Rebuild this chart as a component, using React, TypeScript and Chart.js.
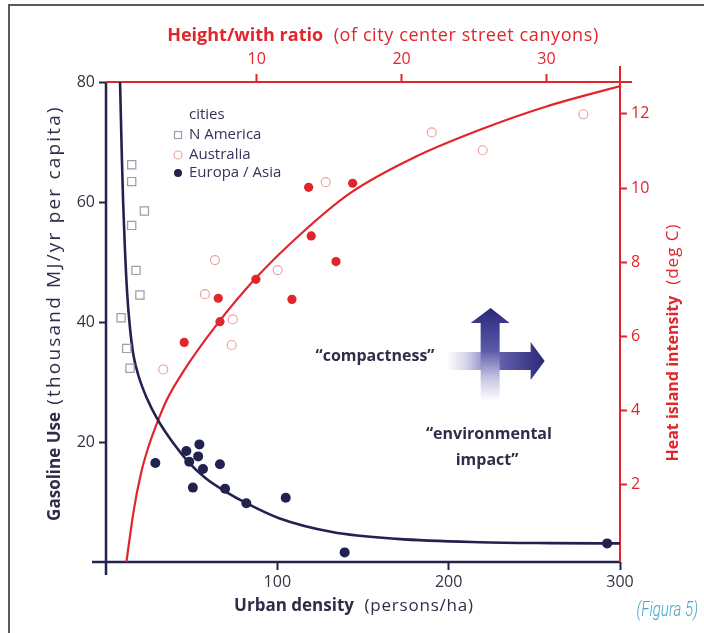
import React, { useEffect, useRef } from "react";
import { Chart, registerables } from "chart.js";

Chart.register(...registerables);

// ---------- data ----------
// Gasoline use fitted curve: urban density (persons/ha) -> thousand MJ/yr per capita
const gasCurveDensity = [8.2, 8.7, 9.3, 10.0, 11.0, 12.3, 14.0, 16.0, 19.0, 24.0, 30.0, 39.0, 48.0, 58.0, 70.0, 82.0, 101.0, 132.0, 170.0, 218.0, 260.0, 300.0];
const gasCurveUse = [80, 74, 67, 60, 52.5, 45, 39, 34.5, 31, 27.2, 23.8, 19.9, 16.7, 14.0, 11.7, 9.8, 7.3, 5.0, 3.85, 3.3, 3.15, 3.1];

// N America cities (density, gasoline)
const naDensity = [15.0, 15.0, 22.4, 15.0, 17.5, 19.8, 8.8, 12.1, 14.0];
const naGasoline = [66.2, 63.4, 58.5, 56.1, 48.6, 44.5, 40.7, 35.6, 32.3];

// Europa / Asia cities (density, gasoline)
const euDensity = [28.8, 46.9, 48.6, 54.5, 53.8, 56.6, 50.7, 66.5, 69.5, 81.9, 104.9, 139.3, 292.5];
const euGasoline = [16.5, 18.5, 16.7, 19.6, 17.6, 15.5, 12.4, 16.3, 12.2, 9.8, 10.7, 1.6, 3.1];

// Heat island fitted curve: height/width ratio -> heat island intensity (deg C)
const heatCurveRatio = [1.0, 1.5, 2.0, 2.5, 3.0, 3.8, 5.0, 7.2, 10.0, 13.0, 16.4, 21.0, 25.6, 30.0, 35.1];
const heatCurveIntensity = [-0.08, 1.3, 2.3, 3.0, 3.55, 4.3, 5.1, 6.3, 7.6, 8.75, 9.85, 10.85, 11.6, 12.2, 12.75];

// Australia cities (ratio, heat)
const auRatio = [3.54, 6.42, 7.11, 8.34, 8.27, 11.44, 14.76, 22.08, 25.6, 32.55];
const auHeat = [5.11, 7.14, 8.06, 6.46, 5.77, 7.79, 10.16, 11.5, 11.02, 11.99];

// Heat island measurements (red dots) (ratio, heat)
const redRatio = [4.99, 7.34, 7.46, 9.94, 12.43, 13.58, 13.76, 15.47, 16.62];
const redHeat = [5.84, 7.03, 6.4, 7.54, 7.0, 10.02, 8.71, 8.02, 10.13];

// tick labels
const densityTicks = [100, 200, 300];
const gasolineTicks = [20, 40, 60, 80];
const ratioTicks = [10, 20, 30];
const heatTicks = [2, 4, 6, 8, 10, 12];

// ---------- styles ----------
const NAVY = "#22224e";
const RED = "#e0252b";
const TEXT = "#2e2e4a";
const FONT = "'Open Sans', 'Noto Sans', sans-serif";

type Part = { t: string; w: number; s: number; ls?: number };

function mixedText(
  ctx: CanvasRenderingContext2D,
  parts: Part[],
  cx: number,
  cy: number,
  color: string,
  angle = 0
) {
  ctx.save();
  ctx.translate(cx, cy);
  ctx.rotate(angle);
  const c: any = ctx;
  const widths = parts.map((p) => {
    ctx.font = `${p.w} ${p.s}px ${FONT}`;
    c.letterSpacing = `${p.ls || 0}px`;
    return ctx.measureText(p.t).width;
  });
  const total = widths.reduce((a, b) => a + b, 0);
  let x = -total / 2;
  ctx.textBaseline = "middle";
  ctx.textAlign = "left";
  ctx.fillStyle = color;
  parts.forEach((p, i) => {
    ctx.font = `${p.w} ${p.s}px ${FONT}`;
    c.letterSpacing = `${p.ls || 0}px`;
    ctx.fillText(p.t, x, 0);
    x += widths[i];
  });
  c.letterSpacing = "0px";
  ctx.restore();
}

const extrasPlugin = {
  id: "extras",
  beforeDraw(chart: any) {
    const ctx = chart.ctx as CanvasRenderingContext2D;
    ctx.save();
    ctx.fillStyle = "#ffffff";
    ctx.fillRect(0, 0, chart.width, chart.height);
    // outer frame (top & left)
    ctx.strokeStyle = "#5a5a5a";
    ctx.lineWidth = 2;
    ctx.beginPath();
    ctx.moveTo(9, chart.height);
    ctx.lineTo(9, 5);
    ctx.lineTo(chart.width, 5);
    ctx.stroke();
    ctx.restore();
  },
  beforeDatasetsDraw(chart: any) {
    const ctx = chart.ctx as CanvasRenderingContext2D;
    const a = chart.chartArea;
    ctx.save();
    ctx.lineCap = "butt";
    // navy left axis
    ctx.strokeStyle = NAVY;
    ctx.lineWidth = 2.5;
    ctx.beginPath();
    ctx.moveTo(a.left, a.top);
    ctx.lineTo(a.left, a.bottom + 13);
    ctx.stroke();
    // navy bottom axis
    ctx.beginPath();
    ctx.moveTo(a.left - 14, a.bottom);
    ctx.lineTo(a.right, a.bottom);
    ctx.stroke();
    // red top axis
    ctx.strokeStyle = RED;
    ctx.lineWidth = 2;
    ctx.beginPath();
    ctx.moveTo(a.left, a.top);
    ctx.lineTo(a.right + 12, a.top);
    ctx.stroke();
    // red right axis
    ctx.beginPath();
    ctx.moveTo(a.right, a.top - 16);
    ctx.lineTo(a.right, a.bottom);
    ctx.stroke();
    ctx.restore();
  },
  afterDraw(chart: any) {
    const ctx = chart.ctx as CanvasRenderingContext2D;
    const xs = chart.scales.x;
    const ys = chart.scales.y;
    ctx.save();

    // ---- arrow cross (compactness / environmental impact) ----
    const cx = xs.getPixelForValue(224.5);
    const cy = ys.getPixelForValue(33.5);
    // horizontal arrow
    const hl = cx - 44, hr = cx + 40, tip = cx + 54;
    const hg = ctx.createLinearGradient(hl, 0, tip, 0);
    hg.addColorStop(0, "rgba(255,255,255,1)");
    hg.addColorStop(0.2, "#d4d4ea");
    hg.addColorStop(0.5, "#6a68b2");
    hg.addColorStop(1, "#2a2878");
    ctx.fillStyle = hg;
    ctx.beginPath();
    ctx.moveTo(hl, cy - 9);
    ctx.lineTo(hr, cy - 9);
    ctx.lineTo(hr, cy - 19);
    ctx.lineTo(tip, cy);
    ctx.lineTo(hr, cy + 19);
    ctx.lineTo(hr, cy + 9);
    ctx.lineTo(hl, cy + 9);
    ctx.closePath();
    ctx.fill();
    // vertical arrow
    const vb = cy + 40, vt = cy - 38, vtip = cy - 53;
    const vg = ctx.createLinearGradient(0, vb, 0, vtip);
    vg.addColorStop(0, "rgba(255,255,255,1)");
    vg.addColorStop(0.25, "#c4c4e2");
    vg.addColorStop(0.55, "#5a58a8");
    vg.addColorStop(1, "#2a2878");
    ctx.fillStyle = vg;
    ctx.beginPath();
    ctx.moveTo(cx - 10, vb);
    ctx.lineTo(cx - 10, vt);
    ctx.lineTo(cx - 20, vt);
    ctx.lineTo(cx, vtip);
    ctx.lineTo(cx + 19, vt);
    ctx.lineTo(cx + 9, vt);
    ctx.lineTo(cx + 9, vb);
    ctx.closePath();
    ctx.fill();

    // ---- annotation texts ----
    ctx.fillStyle = TEXT;
    ctx.textAlign = "center";
    ctx.textBaseline = "middle";
    ctx.font = `700 16px ${FONT}`;
    ctx.fillText("\u201Ccompactness\u201D", xs.getPixelForValue(157), ys.getPixelForValue(34.2));
    ctx.fillText("\u201Cenvironmental", xs.getPixelForValue(223.5), ys.getPixelForValue(21.2));
    ctx.fillText("impact\u201D", xs.getPixelForValue(222.4), ys.getPixelForValue(17));

    // ---- legend ----
    const lx = 178, tx = 189;
    ctx.textAlign = "left";
    ctx.font = `400 15px ${FONT}`;
    ctx.fillStyle = "#34345a";
    ctx.fillText("cities", tx, 115);
    const ds = chart.data.datasets;
    const items = [ds[0], ds[1], ds[2]];
    const rows = [135, 155, 173];
    items.forEach((d: any, i: number) => {
      const y = rows[i];
      ctx.fillStyle = "#34345a";
      ctx.fillText(d.label, tx, y);
      ctx.lineWidth = 1.2;
      if (d.pointStyle === "rect") {
        ctx.strokeStyle = d.borderColor;
        ctx.strokeRect(lx - 3.5, y - 3.5, 7, 7);
      } else if (d.backgroundColor === NAVY) {
        ctx.fillStyle = NAVY;
        ctx.beginPath();
        ctx.arc(lx, y, 4, 0, Math.PI * 2);
        ctx.fill();
      } else {
        ctx.strokeStyle = d.borderColor;
        ctx.beginPath();
        ctx.arc(lx, y, 4, 0, Math.PI * 2);
        ctx.stroke();
      }
    });

    // ---- axis titles ----
    mixedText(ctx, [{ t: "Height/with ratio", w: 700, s: 18 }, { t: "  (of city center street canyons)", w: 400, s: 18, ls: 0.6 }], 383, 36, RED);
    mixedText(ctx, [{ t: "Urban density", w: 700, s: 17 }, { t: "  (persons/ha)", w: 400, s: 17, ls: 0.8 }], 354, 606, TEXT);
    mixedText(ctx, [{ t: "Gasoline Use", w: 700, s: 17 }, { t: " (thousand MJ/yr per capita)", w: 400, s: 19, ls: 2.2 }], 55, 313, TEXT, -Math.PI / 2);
    mixedText(ctx, [{ t: "Heat island intensity", w: 700, s: 16 }, { t: "  (deg C)", w: 400, s: 17, ls: 1 }], 673, 342.5, RED, -Math.PI / 2);

    // ---- figure caption ----
    ctx.save();
    ctx.translate(698, 611);
    ctx.scale(0.72, 1);
    ctx.font = `italic 300 21px Roboto, ${FONT}`;
    ctx.fillStyle = "#3fa8c8";
    ctx.textAlign = "right";
    ctx.textBaseline = "middle";
    ctx.fillText("(Figura 5)", 0, 0);
    ctx.restore();

    ctx.restore();
  },
};

function setTicks(values: number[]) {
  return (scale: any) => {
    scale.ticks = values.map((v) => ({ value: v }));
  };
}

export default function App() {
  const ref = useRef<HTMLCanvasElement | null>(null);

  useEffect(() => {
    if (!ref.current) return;
    const gridBase = { drawOnChartArea: false, drawTicks: true, tickWidth: 2 };
    const chart = new Chart(ref.current, {
      type: "scatter",
      data: {
        datasets: [
          {
            label: "N America",
            data: naDensity.map((x, i) => ({ x, y: naGasoline[i] })),
            xAxisID: "x",
            yAxisID: "y",
            pointStyle: "rect",
            pointRadius: 5.8,
            borderColor: "#9c9cab",
            borderWidth: 1.2,
            backgroundColor: "rgba(255,255,255,0)",
            order: 0,
          },
          {
            label: "Australia",
            data: auRatio.map((x, i) => ({ x, y: auHeat[i] })),
            xAxisID: "x2",
            yAxisID: "y2",
            pointStyle: "circle",
            pointRadius: 4.5,
            borderColor: "#eba3a6",
            borderWidth: 1.2,
            backgroundColor: "rgba(255,255,255,0)",
            order: 0,
          },
          {
            label: "Europa / Asia",
            data: euDensity.map((x, i) => ({ x, y: euGasoline[i] })),
            xAxisID: "x",
            yAxisID: "y",
            pointStyle: "circle",
            pointRadius: 5,
            borderWidth: 0,
            borderColor: NAVY,
            backgroundColor: NAVY,
            order: 0,
          },
          {
            label: "heat island",
            data: redRatio.map((x, i) => ({ x, y: redHeat[i] })),
            xAxisID: "x2",
            yAxisID: "y2",
            pointStyle: "circle",
            pointRadius: 4.6,
            borderWidth: 0,
            borderColor: RED,
            backgroundColor: RED,
            order: 0,
          },
          {
            type: "line",
            label: "gasoline curve",
            data: gasCurveDensity.map((x, i) => ({ x, y: gasCurveUse[i] })),
            xAxisID: "x",
            yAxisID: "y",
            showLine: true,
            borderColor: NAVY,
            borderWidth: 2.6,
            pointRadius: 0,
            cubicInterpolationMode: "monotone",
            fill: false,
            order: 5,
          },
          {
            type: "line",
            label: "heat curve",
            data: heatCurveRatio.map((x, i) => ({ x, y: heatCurveIntensity[i] })),
            xAxisID: "x2",
            yAxisID: "y2",
            showLine: true,
            borderColor: RED,
            borderWidth: 2.2,
            pointRadius: 0,
            cubicInterpolationMode: "monotone",
            fill: false,
            order: 5,
          },
        ] as any,
      },
      options: {
        responsive: false,
        animation: false,
        devicePixelRatio: 1,
        layout: { padding: 0, autoPadding: false },
        plugins: { legend: { display: false }, tooltip: { enabled: false }, title: { display: false } },
        events: [],
        font: { family: FONT },
        scales: {
          x: {
            type: "linear",
            position: "bottom",
            min: 0,
            max: 300,
            afterBuildTicks: setTicks(densityTicks),
            afterFit: (s: any) => { s.height = 71; },
            grid: { ...gridBase, tickLength: 8, tickColor: NAVY },
            border: { display: false },
            ticks: { color: "#333340", font: { family: FONT, size: 16 }, padding: 3, autoSkip: false, maxRotation: 0 },
          },
          x2: {
            type: "linear",
            position: "top",
            min: -0.41,
            max: 35.08,
            afterBuildTicks: setTicks(ratioTicks),
            afterFit: (s: any) => { s.height = 82; },
            grid: { ...gridBase, tickLength: 8, tickColor: RED },
            border: { display: false },
            ticks: { color: RED, font: { family: FONT, size: 16 }, padding: 5, autoSkip: false, maxRotation: 0 },
          },
          y: {
            type: "linear",
            position: "left",
            min: 0,
            max: 80,
            afterBuildTicks: setTicks(gasolineTicks),
            afterFit: (s: any) => { s.width = 106; },
            grid: { ...gridBase, tickLength: 7, tickColor: NAVY },
            border: { display: false },
            ticks: { color: "#333340", font: { family: FONT, size: 16 }, padding: 4, autoSkip: false },
          },
          y2: {
            type: "linear",
            position: "right",
            min: -0.08,
            max: 12.86,
            afterBuildTicks: setTicks(heatTicks),
            afterFit: (s: any) => { s.width = 84; },
            grid: { ...gridBase, tickLength: 7, tickColor: RED },
            border: { display: false },
            ticks: { color: RED, font: { family: FONT, size: 16 }, padding: 4, autoSkip: false },
          },
        },
      } as any,
      plugins: [extrasPlugin],
    });
    return () => chart.destroy();
  }, []);

  return (
    <div style={{ position: "fixed", left: 0, top: 0, width: 704, height: 633, background: "#fff" }}>
      <canvas ref={ref} width={704} height={633} style={{ display: "block", width: 704, height: 633 }} />
    </div>
  );
}
